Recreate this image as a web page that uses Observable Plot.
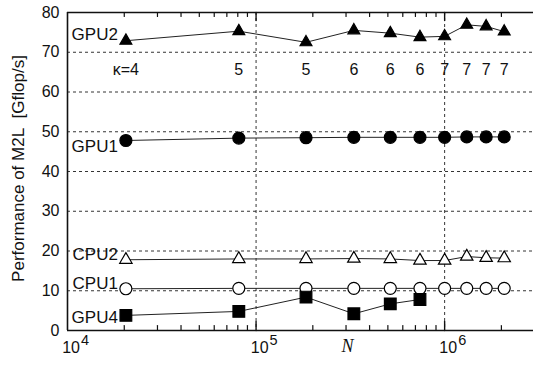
<!DOCTYPE html>
<html><head><meta charset="utf-8">
<script src="https://cdn.jsdelivr.net/npm/d3@7"></script>
<script src="https://cdn.jsdelivr.net/npm/@observablehq/plot@0.6"></script>
<style>body{margin:0;background:#fff}</style>
</head><body><div id="chart"></div>
<script>
// ---- data ----
const N = [2.04e4, 8.1e4, 1.84e5, 3.3e5, 5.15e5, 7.4e5, 1.0e6, 1.31e6, 1.66e6, 2.07e6];
const kappa = ["κ=4", "5", "5", "6", "6", "6", "7", "7", "7", "7"];
const gpu2 = [72.9, 75.3, 72.5, 75.5, 74.8, 73.8, 74.0, 76.9, 76.5, 75.2];
const gpu1 = [47.8, 48.4, 48.5, 48.6, 48.6, 48.6, 48.6, 48.7, 48.7, 48.7];
const cpu2 = [17.8, 18.0, 18.0, 18.1, 18.0, 17.6, 17.6, 18.6, 18.3, 18.2];
const cpu1 = [10.5, 10.6, 10.6, 10.6, 10.6, 10.6, 10.6, 10.6, 10.6, 10.6];
const gpu4 = [3.8, 4.8, 8.4, 4.2, 6.7, 7.8];
const yTicks = [0, 10, 20, 30, 40, 50, 60, 70, 80];
const yGrid = [10, 20, 30, 40, 50, 60, 70];
const xMajor = [1e4, 1e5, 1e6];
const xExp = ["4", "5", "6"];
const xGrid = [1e5, 1e6];
const xMinor = [2e4,3e4,4e4,5e4,6e4,7e4,8e4,9e4,2e5,3e5,4e5,5e5,6e5,7e5,8e5,9e5,2e6];

// ---- styles ----
const seriesDefs = [
  {name: "GPU2", values: gpu2, symbol: "triangle", fill: "black", r: 4.4, dy: -6},
  {name: "GPU1", values: gpu1, symbol: "circle", fill: "black", r: 6, dy: 6},
  {name: "CPU2", values: cpu2, symbol: "triangle", fill: "white", r: 4.6, dy: -5},
  {name: "CPU1", values: cpu1, symbol: "circle", fill: "white", r: 6, dy: -5},
  {name: "GPU4", values: gpu4, symbol: "square", fill: "black", r: 6.6, dy: 2}
];

const tickShape = {draw(ctx, l) { ctx.moveTo(0, 0); ctx.lineTo(0, -l); }};
const ink = "#111";

const marks = [
  Plot.gridY(yGrid, {stroke: ink, strokeOpacity: 0.85, strokeDasharray: "3,3"}),
  Plot.gridX(xGrid, {stroke: ink, strokeOpacity: 0.85, strokeDasharray: "3,3"}),
  Plot.ruleY([0, 80], {stroke: ink, strokeWidth: 1.6}),
  Plot.ruleX([1e4], {stroke: ink, strokeWidth: 1.6}),
  // minor/major ticks bottom & top
  Plot.vector(xMinor, {x: d => d, y: 0, length: 5, rotate: 0, anchor: "start", shape: tickShape, stroke: ink, strokeWidth: 1.2}),
  Plot.vector(xMinor, {x: d => d, y: 80, length: 4, rotate: 180, anchor: "start", shape: tickShape, stroke: ink, strokeWidth: 1.2}),
  Plot.vector(xGrid, {x: d => d, y: 0, length: 9, rotate: 0, anchor: "start", shape: tickShape, stroke: ink, strokeWidth: 1.4}),
  Plot.vector(xGrid, {x: d => d, y: 80, length: 8, rotate: 180, anchor: "start", shape: tickShape, stroke: ink, strokeWidth: 1.4}),
  Plot.axisY(yTicks, {tickSize: 0, tickPadding: 8, fontSize: 16, label: null, fill: ink}),
  // x tick labels 10^k
  Plot.text(xMajor, {x: d => d, frameAnchor: "bottom", text: () => "10", textAnchor: "end", dx: 12.5, dy: 22, fontSize: 16, fill: ink}),
  Plot.text(xMajor, {x: d => d, frameAnchor: "bottom", text: (d, i) => xExp[i], textAnchor: "start", dx: 13.5, dy: 14, fontSize: 14.5, fill: ink}),
  // axis titles
  Plot.text(["N"], {frameAnchor: "bottom", text: d => d, dx: 47, dy: 21, fontSize: 18, fontStyle: "italic", fontFamily: "Liberation Serif, DejaVu Serif, serif", fill: ink}),
  Plot.text(["Performance of M2L\u00a0\u00a0[Gflop/s]"], {frameAnchor: "left", text: d => d, rotate: -90, textAnchor: "middle", dx: -49, dy: -3, fontSize: 17, fill: ink}),
  // kappa labels
  Plot.text(kappa, {x: (d, i) => N[i], frameAnchor: "top", text: d => d, dy: 51, fontSize: 16, fill: ink})
];

for (const s of seriesDefs) {
  const rows = s.values.map((v, i) => ({N: N[i], v}));
  marks.push(Plot.line(rows, {x: "N", y: "v", stroke: "#222", strokeWidth: 1}));
}
for (const s of seriesDefs) {
  const rows = s.values.map((v, i) => ({N: N[i], v}));
  marks.push(Plot.dot(rows, {x: "N", y: "v", symbol: () => s.symbol, r: s.r, fill: s.fill, stroke: "black", strokeWidth: 1.2}));
  marks.push(Plot.text(rows.slice(0, 1), {x: "N", y: "v", text: () => s.name, textAnchor: "end", dx: -8, dy: s.dy, fontSize: 17, fill: ink}));
}

const chart = Plot.plot({
  width: 533,
  height: 365,
  marginLeft: 67,
  marginRight: 0,
  marginTop: 12,
  marginBottom: 35,
  style: {fontFamily: "Liberation Sans, Arial, Helvetica, sans-serif", background: "white", overflow: "visible"},
  x: {type: "log", domain: [1e4, 2.96e6], axis: null},
  y: {domain: [0, 80], axis: null},
  symbol: {type: "identity"},
  marks
});
document.getElementById("chart").append(chart);
</script>
</body></html>
